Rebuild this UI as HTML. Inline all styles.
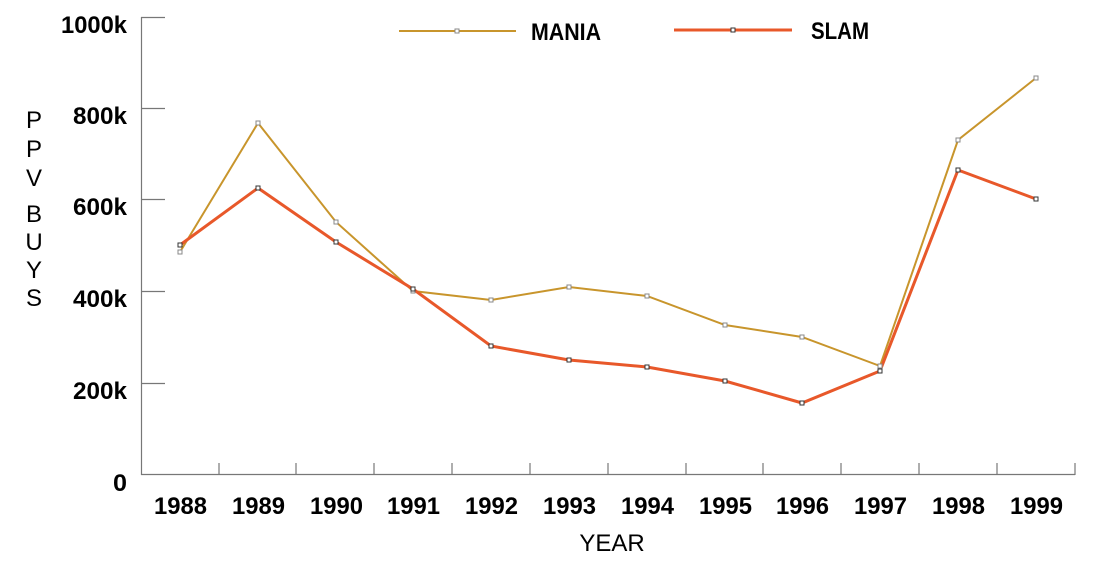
<!DOCTYPE html>
<html><head><meta charset="utf-8"><style>
html,body{margin:0;padding:0;background:#fff;}
svg{display:block;}
.t{font-family:"Liberation Sans",sans-serif;font-weight:bold;font-size:24px;fill:#000;}
.a{font-family:"Liberation Sans",sans-serif;font-size:24px;fill:#000;}
</style></head><body>
<svg width="1094" height="563" viewBox="0 0 1094 563" xmlns="http://www.w3.org/2000/svg">
<g stroke="#777" stroke-width="1.2" fill="none">
<line x1="141.5" y1="17" x2="141.5" y2="475"/>
<line x1="141" y1="17.5" x2="165" y2="17.5"/>
<line x1="141" y1="108.5" x2="165" y2="108.5"/>
<line x1="141" y1="199.5" x2="165" y2="199.5"/>
<line x1="141" y1="291.5" x2="165" y2="291.5"/>
<line x1="141" y1="383.5" x2="165" y2="383.5"/>
<line x1="141" y1="474.5" x2="1075" y2="474.5"/>
<line x1="219" y1="463" x2="219" y2="475"/><line x1="296" y1="463" x2="296" y2="475"/>
<line x1="374" y1="463" x2="374" y2="475"/><line x1="452" y1="463" x2="452" y2="475"/>
<line x1="530" y1="463" x2="530" y2="475"/><line x1="608" y1="463" x2="608" y2="475"/>
<line x1="686" y1="463" x2="686" y2="475"/><line x1="763" y1="463" x2="763" y2="475"/>
<line x1="841" y1="463" x2="841" y2="475"/><line x1="919" y1="463" x2="919" y2="475"/>
<line x1="997" y1="463" x2="997" y2="475"/><line x1="1075" y1="463" x2="1075" y2="475"/>
</g>
<g class="t" lengthAdjust="spacingAndGlyphs">
<text x="61" y="33" textLength="66" lengthAdjust="spacingAndGlyphs">1000k</text>
<text x="73" y="124" textLength="54" lengthAdjust="spacingAndGlyphs">800k</text>
<text x="73" y="215" textLength="54" lengthAdjust="spacingAndGlyphs">600k</text>
<text x="73" y="307" textLength="54" lengthAdjust="spacingAndGlyphs">400k</text>
<text x="73" y="399" textLength="54" lengthAdjust="spacingAndGlyphs">200k</text>
<text x="113" y="491" textLength="14" lengthAdjust="spacingAndGlyphs">0</text>
</g>
<g class="t">
<text x="154" y="514" textLength="53" lengthAdjust="spacingAndGlyphs">1988</text>
<text x="232" y="514" textLength="53" lengthAdjust="spacingAndGlyphs">1989</text>
<text x="310" y="514" textLength="53" lengthAdjust="spacingAndGlyphs">1990</text>
<text x="387" y="514" textLength="53" lengthAdjust="spacingAndGlyphs">1991</text>
<text x="465" y="514" textLength="53" lengthAdjust="spacingAndGlyphs">1992</text>
<text x="543" y="514" textLength="53" lengthAdjust="spacingAndGlyphs">1993</text>
<text x="621" y="514" textLength="53" lengthAdjust="spacingAndGlyphs">1994</text>
<text x="699" y="514" textLength="53" lengthAdjust="spacingAndGlyphs">1995</text>
<text x="776" y="514" textLength="53" lengthAdjust="spacingAndGlyphs">1996</text>
<text x="854" y="514" textLength="53" lengthAdjust="spacingAndGlyphs">1997</text>
<text x="932" y="514" textLength="53" lengthAdjust="spacingAndGlyphs">1998</text>
<text x="1010" y="514" textLength="53" lengthAdjust="spacingAndGlyphs">1999</text>
</g>
<text class="a" x="612" y="551" text-anchor="middle">YEAR</text>
<g class="a" text-anchor="middle">
<text x="34" y="128">P</text><text x="34" y="157">P</text><text x="34" y="186">V</text>
<text x="34" y="222">B</text><text x="34" y="250">U</text><text x="34" y="278">Y</text><text x="34" y="306">S</text>
</g>
<polyline fill="none" stroke="#C8952C" stroke-width="2" points="180,252 258,123 336,222 413,291 491,300 569,287 647,296 725,325 802,337 880,366 958,140 1036,78"/>
<polyline fill="none" stroke="#E8582A" stroke-width="3" points="180,245 258,188 336,242 413,289 491,346 569,360 647,367 725,381 802,403 880,371 958,170 1036,199"/>
<g fill="#fff" stroke="#888" stroke-width="1">
<rect x="178" y="250" width="4" height="4"/><rect x="256" y="121" width="4" height="4"/><rect x="334" y="220" width="4" height="4"/>
<rect x="411" y="289" width="4" height="4"/><rect x="489" y="298" width="4" height="4"/><rect x="567" y="285" width="4" height="4"/>
<rect x="645" y="294" width="4" height="4"/><rect x="723" y="323" width="4" height="4"/><rect x="800" y="335" width="4" height="4"/>
<rect x="878" y="364" width="4" height="4"/><rect x="956" y="138" width="4" height="4"/><rect x="1034" y="76" width="4" height="4"/>
</g>
<g fill="#fff" stroke="#333" stroke-width="1">
<rect x="178" y="243" width="4" height="4"/><rect x="256" y="186" width="4" height="4"/><rect x="334" y="240" width="4" height="4"/>
<rect x="411" y="287" width="4" height="4"/><rect x="489" y="344" width="4" height="4"/><rect x="567" y="358" width="4" height="4"/>
<rect x="645" y="365" width="4" height="4"/><rect x="723" y="379" width="4" height="4"/><rect x="800" y="401" width="4" height="4"/>
<rect x="878" y="369" width="4" height="4"/><rect x="956" y="168" width="4" height="4"/><rect x="1034" y="197" width="4" height="4"/>
</g>
<line x1="399" y1="31" x2="516" y2="31" stroke="#C8952C" stroke-width="2"/>
<rect x="455" y="29" width="4" height="4" fill="#fff" stroke="#888"/>
<text class="t" x="531" y="40" textLength="70" lengthAdjust="spacingAndGlyphs">MANIA</text>
<line x1="674" y1="30" x2="792" y2="30" stroke="#E8582A" stroke-width="3"/>
<rect x="731" y="28" width="4" height="4" fill="#fff" stroke="#333"/>
<text class="t" x="811" y="39" textLength="58" lengthAdjust="spacingAndGlyphs">SLAM</text>
</svg>
</body></html>
